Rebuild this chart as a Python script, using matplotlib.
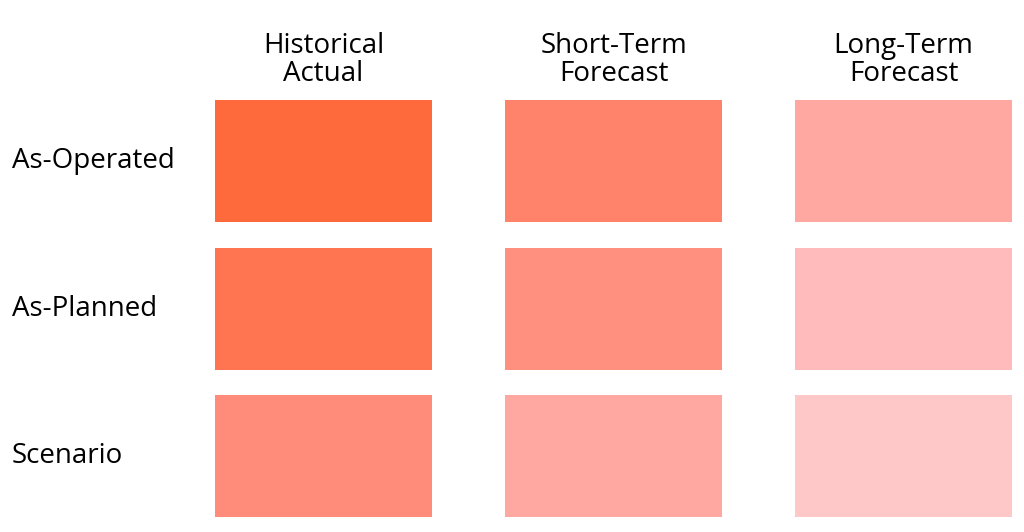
import matplotlib.pyplot as plt
import matplotlib.transforms as mtransforms
from matplotlib.patches import Rectangle

plt.rcParams['font.family'] = ['Open Sans', 'DejaVu Sans']

columns = ["Historical\nActual", "Short-Term\nForecast", "Long-Term\nForecast"]
rows = ["As-Operated", "As-Planned", "Scenario"]
colors = [
    ["#FF6A3D", "#FF826B", "#FFA7A1"],
    ["#FF7552", "#FF907F", "#FFBBBB"],
    ["#FF8C7A", "#FFA8A2", "#FFC8C8"],
]

cell_w = 217 / 290
cell_h = 122 / 147.5

fig = plt.figure(figsize=(10.24, 5.32), dpi=100)
ax = fig.add_axes([215 / 1024, 1 - 517 / 532, (1012 - 215) / 1024, (517 - 100) / 532])
ax.set_xlim(0, len(columns) - 1 + cell_w)
ax.set_ylim(len(rows) - 1 + cell_h, 0)
ax.axis("off")

for r in range(len(rows)):
    for c in range(len(columns)):
        ax.add_patch(Rectangle((c, r), cell_w, cell_h, color=colors[r][c], lw=0))

for c, name in enumerate(columns):
    ax.text(c + cell_w / 2, -0.08, name, ha="center", va="bottom",
            fontsize=20, linespacing=1.0)

blend = mtransforms.blended_transform_factory(fig.transFigure, ax.transData)
for r, name in enumerate(rows):
    ax.text(12 / 1024, r + cell_h / 2, name, transform=blend,
            ha="left", va="center", fontsize=20)

fig.savefig("out.png", dpi=100)
